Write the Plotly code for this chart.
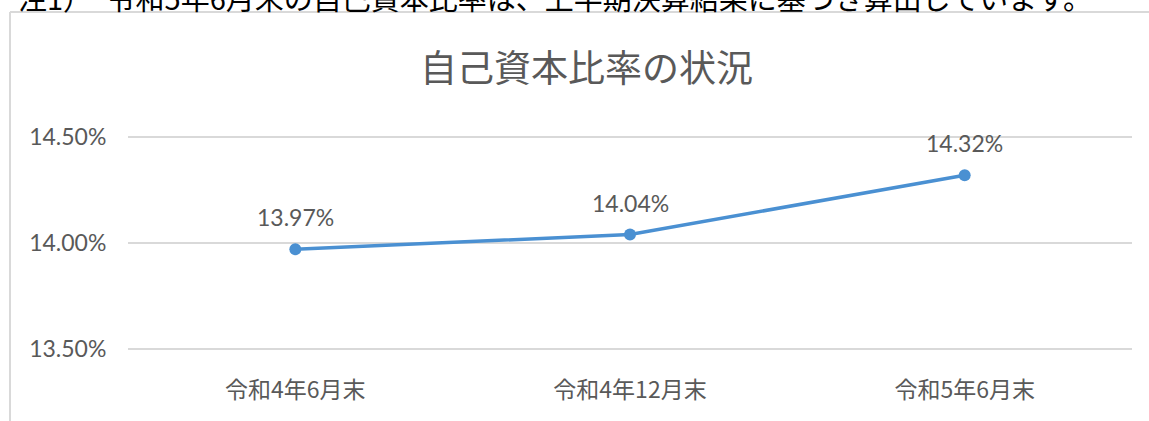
import plotly.graph_objects as go

categories = ["令和4年6月末", "令和4年12月末", "令和5年6月末"]
ratios = [13.97, 14.04, 14.32]
y_ticks = [13.50, 14.00, 14.50]
title_text = "自己資本比率の状況"
note_text = "注1）　令和5年6月末の自己資本比率は、上半期決算結果に基づき算出しています。"

W, H = 1149, 421
L, R, T, B = 128, 17, 135, 70
pw, ph = W - L - R, H - T - B

def px_x(x):
    return (x - L) / pw

def px_y(y):
    return (H - B - y) / ph

grey = "#595959"
fam = "Lato, 'Noto Sans CJK JP', sans-serif"
cjk = "'Noto Sans CJK JP', sans-serif"

fig = go.Figure()
fig.add_trace(go.Scatter(
    x=categories, y=ratios, mode="lines+markers",
    line=dict(color="#4A90D2", width=3.5),
    marker=dict(color="#4A90D2", size=12),
    hoverinfo="skip", showlegend=False,
))

for c, v in zip(categories, ratios):
    fig.add_annotation(x=c, y=v, text=f"{v:.2f}%", showarrow=False,
                       yshift=32, font=dict(size=23, color=grey, family=fam))

fig.add_annotation(xref="paper", yref="paper", x=px_x(586), y=px_y(66),
                   text=title_text, showarrow=False, xanchor="center", yanchor="middle",
                   font=dict(size=37, color=grey, family=cjk))

fig.add_annotation(xref="paper", yref="paper", x=px_x(16), y=px_y(-3),
                   text=note_text, showarrow=False, xanchor="left", yanchor="middle",
                   font=dict(size=29, color="#000000", family=cjk))

# chart frame
fig.add_shape(type="line", xref="paper", yref="paper", x0=px_x(10), x1=px_x(1160),
              y0=px_y(12), y1=px_y(12), line=dict(color="#D9D9D9", width=2))
fig.add_shape(type="line", xref="paper", yref="paper", x0=px_x(10), x1=px_x(10),
              y0=px_y(12), y1=px_y(430), line=dict(color="#D9D9D9", width=2))

fig.update_layout(
    width=W, height=H,
    margin=dict(l=L, r=R, t=T, b=B),
    paper_bgcolor="white", plot_bgcolor="white",
    xaxis=dict(type="category", range=[-0.5, 2.5], showgrid=False, showline=False,
               zeroline=False, ticks="outside", ticklen=18, tickcolor="rgba(0,0,0,0)",
               tickfont=dict(size=23, color=grey, family=cjk)),
    yaxis=dict(range=[13.49, 14.51], tickvals=y_ticks,
               ticktext=[f"{t:.2f}%" for t in y_ticks],
               showgrid=True, gridcolor="#D9D9D9", gridwidth=1.5, zeroline=False,
               showline=False, ticks="outside", ticklen=16, tickcolor="rgba(0,0,0,0)",
               tickfont=dict(size=23, color=grey, family=fam)),
)

fig.write_html("out.html", config={"displayModeBar": False},
               post_script="document.body.style.margin='0';document.documentElement.style.overflow='hidden';")
